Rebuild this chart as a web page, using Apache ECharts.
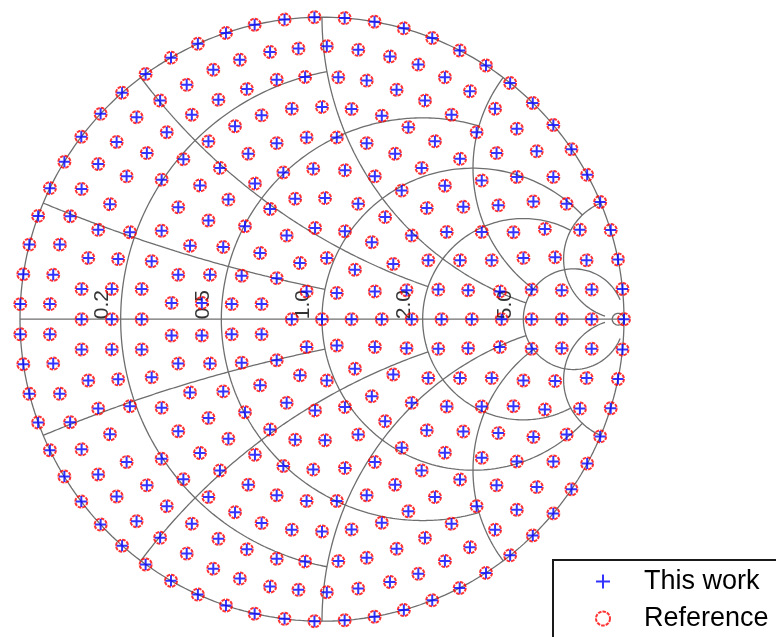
<!DOCTYPE html>
<html>
<head>
<meta charset="utf-8">
<title>Smith chart nodes</title>
<script src="https://cdn.jsdelivr.net/npm/echarts@6/dist/echarts.min.js"></script>
<style>
  html, body { margin: 0; padding: 0; background: #ffffff; }
  #chart { width: 776px; height: 637px; }
</style>
</head>
<body>
<div id="chart"></div>
<script>
// ---- Smith chart grid definition (normalised impedance) ----
const resistanceValues = [0.2, 0.5, 1, 2, 5, 50];
const resistanceClip   = [1, 2, 5, 5, 30, Infinity];   // |x| limit of each circle
const reactanceValues  = [0.2, 0.5, 1, 2, 5];
const reactanceClip    = [1, 2, 5, 5, 30];             // r limit of each arc
const labelResistance  = [0.2, 0.5, 1, 2, 5];
const labelText        = ['0.2', '0.5', '1.0', '2.0', '5.0'];

// ---- node set, reflection coefficient [Re, Im] ----
const rimUpper = [
  [1.000, 0.000], [0.995, 0.100], [0.980, 0.198], [0.956, 0.295], [0.921, 0.388],
  [0.878, 0.478], [0.826, 0.563], [0.766, 0.643], [0.698, 0.716], [0.623, 0.782],
  [0.543, 0.840], [0.456, 0.890], [0.365, 0.931], [0.271, 0.963], [0.174, 0.985],
  [0.075, 0.997], [-0.025, 1.000], [-0.124, 0.992], [-0.223, 0.975], [-0.318, 0.948],
  [-0.411, 0.912], [-0.500, 0.866], [-0.584, 0.812], [-0.662, 0.750], [-0.733, 0.680],
  [-0.797, 0.604], [-0.853, 0.521], [-0.901, 0.434], [-0.940, 0.342], [-0.969, 0.247],
  [-0.989, 0.149], [-0.999, 0.050]
];
const rimLower = [
  [0.995, -0.100], [0.980, -0.198], [0.956, -0.295], [0.921, -0.388],
  [0.878, -0.478], [0.826, -0.563], [0.766, -0.643], [0.698, -0.716], [0.623, -0.782],
  [0.543, -0.840], [0.456, -0.890], [0.365, -0.931], [0.271, -0.963], [0.174, -0.985],
  [0.075, -0.997], [-0.025, -1.000], [-0.124, -0.992], [-0.223, -0.975], [-0.318, -0.948],
  [-0.411, -0.912], [-0.500, -0.866], [-0.584, -0.812], [-0.662, -0.750], [-0.733, -0.680],
  [-0.797, -0.604], [-0.853, -0.521], [-0.901, -0.434], [-0.940, -0.342], [-0.969, -0.247],
  [-0.989, -0.149], [-0.999, -0.050]
];
const innerUpper = [
  [0.016, 0.904], [-0.172, 0.885], [-0.078, 0.896], [-0.272, 0.859], [-0.360, 0.826],
  [-0.150, 0.793], [-0.056, 0.802], [-0.448, 0.776], [-0.249, 0.762], [-0.343, 0.727],
  [-0.536, 0.724], [0.000, 0.703], [-0.100, 0.697], [-0.431, 0.677], [-0.200, 0.675],
  [-0.614, 0.669], [-0.288, 0.639], [-0.514, 0.619], [-0.051, 0.602], [-0.680, 0.587],
  [-0.376, 0.589], [-0.150, 0.583], [-0.580, 0.550], [-0.244, 0.548], [-0.459, 0.530],
  [-0.741, 0.514], [-0.338, 0.501], [-0.029, 0.498], [-0.128, 0.486], [-0.647, 0.473],
  [-0.531, 0.462], [-0.222, 0.449], [-0.404, 0.443], [-0.796, 0.431], [-0.702, 0.381],
  [-0.310, 0.396], [-0.089, 0.399], [0.010, 0.401], [-0.476, 0.371], [-0.172, 0.365],
  [-0.834, 0.341], [-0.376, 0.327], [-0.255, 0.308], [-0.023, 0.302], [-0.741, 0.296],
  [-0.531, 0.293], [-0.636, 0.288], [-0.117, 0.277], [-0.868, 0.247], [-0.437, 0.243],
  [-0.327, 0.239], [-0.205, 0.219], [-0.774, 0.203], [-0.675, 0.199], [-0.564, 0.192],
  [0.016, 0.203], [-0.073, 0.186], [-0.890, 0.147], [-0.476, 0.147], [-0.371, 0.147],
  [-0.266, 0.144], [-0.150, 0.136], [-0.796, 0.100], [-0.696, 0.100], [-0.597, 0.100],
  [-0.051, 0.092], [-0.901, 0.050], [-0.498, 0.054], [-0.398, 0.054], [-0.299, 0.050],
  [-0.200, 0.050],
  [0.120, 0.892], [0.225, 0.870], [0.319, 0.843], [0.054, 0.801], [0.148, 0.790],
  [0.407, 0.801], [0.247, 0.760], [0.490, 0.755], [0.341, 0.724], [0.098, 0.696],
  [0.198, 0.674], [0.429, 0.677], [0.573, 0.697], [0.286, 0.636], [0.645, 0.631],
  [0.049, 0.602], [0.512, 0.619], [0.148, 0.583], [0.374, 0.589], [0.711, 0.556],
  [0.242, 0.548], [0.457, 0.531], [0.578, 0.550], [0.076, 0.493], [0.330, 0.501],
  [0.175, 0.473], [0.529, 0.459], [0.645, 0.471], [0.766, 0.471], [0.407, 0.442],
  [0.264, 0.426], [0.120, 0.382], [0.347, 0.368], [0.468, 0.372], [0.584, 0.377],
  [0.700, 0.390], [0.810, 0.382], [0.209, 0.338], [0.076, 0.291], [0.297, 0.277],
  [0.413, 0.289], [0.529, 0.289], [0.634, 0.288], [0.738, 0.299], [0.854, 0.296],
  [0.165, 0.255], [0.109, 0.164], [0.236, 0.183], [0.352, 0.195], [0.457, 0.195],
  [0.562, 0.195], [0.667, 0.203], [0.772, 0.205], [0.876, 0.195], [0.049, 0.087],
  [0.175, 0.092], [0.280, 0.096], [0.385, 0.098], [0.484, 0.096], [0.589, 0.092],
  [0.694, 0.098], [0.794, 0.096], [0.893, 0.098]
];
const innerLower = [
  [0.016, -0.904], [-0.172, -0.885], [-0.078, -0.896], [-0.272, -0.859], [-0.360, -0.826],
  [-0.150, -0.793], [-0.056, -0.802], [-0.448, -0.776], [-0.249, -0.762], [-0.343, -0.727],
  [-0.536, -0.724], [0.000, -0.703], [-0.100, -0.697], [-0.431, -0.677], [-0.200, -0.675],
  [-0.614, -0.669], [-0.288, -0.639], [-0.514, -0.619], [-0.051, -0.602], [-0.680, -0.587],
  [-0.376, -0.589], [-0.150, -0.583], [-0.580, -0.550], [-0.244, -0.548], [-0.459, -0.530],
  [-0.741, -0.514], [-0.338, -0.501], [-0.029, -0.498], [-0.128, -0.486], [-0.647, -0.473],
  [-0.531, -0.462], [-0.222, -0.449], [-0.404, -0.443], [-0.796, -0.431], [-0.702, -0.381],
  [-0.310, -0.396], [-0.089, -0.399], [0.010, -0.401], [-0.476, -0.371], [-0.172, -0.365],
  [-0.834, -0.341], [-0.376, -0.327], [-0.255, -0.308], [-0.023, -0.302], [-0.741, -0.296],
  [-0.531, -0.293], [-0.636, -0.288], [-0.117, -0.277], [-0.868, -0.247], [-0.437, -0.243],
  [-0.327, -0.239], [-0.205, -0.219], [-0.774, -0.203], [-0.675, -0.199], [-0.564, -0.192],
  [0.016, -0.203], [-0.073, -0.186], [-0.890, -0.147], [-0.476, -0.147], [-0.371, -0.147],
  [-0.266, -0.144], [-0.150, -0.136], [-0.796, -0.100], [-0.696, -0.100], [-0.597, -0.100],
  [-0.051, -0.092], [-0.901, -0.050], [-0.498, -0.054], [-0.398, -0.054], [-0.299, -0.050],
  [-0.200, -0.050],
  [0.120, -0.892], [0.225, -0.870], [0.319, -0.843], [0.054, -0.801], [0.148, -0.790],
  [0.407, -0.801], [0.247, -0.760], [0.490, -0.755], [0.341, -0.724], [0.098, -0.696],
  [0.198, -0.674], [0.429, -0.677], [0.573, -0.697], [0.286, -0.636], [0.645, -0.631],
  [0.049, -0.602], [0.512, -0.619], [0.148, -0.583], [0.374, -0.589], [0.711, -0.556],
  [0.242, -0.548], [0.457, -0.531], [0.578, -0.550], [0.076, -0.493], [0.330, -0.501],
  [0.175, -0.473], [0.529, -0.459], [0.645, -0.471], [0.766, -0.471], [0.407, -0.442],
  [0.264, -0.426], [0.120, -0.382], [0.347, -0.368], [0.468, -0.372], [0.584, -0.377],
  [0.700, -0.390], [0.810, -0.382], [0.209, -0.338], [0.076, -0.291], [0.297, -0.277],
  [0.413, -0.289], [0.529, -0.289], [0.634, -0.288], [0.738, -0.299], [0.854, -0.296],
  [0.165, -0.255], [0.109, -0.164], [0.236, -0.183], [0.352, -0.195], [0.457, -0.195],
  [0.562, -0.195], [0.667, -0.203], [0.772, -0.205], [0.876, -0.195], [0.049, -0.087],
  [0.175, -0.092], [0.280, -0.096], [0.385, -0.098], [0.484, -0.096], [0.589, -0.092],
  [0.694, -0.098], [0.794, -0.096], [0.893, -0.098]
];
const axisRe = [-0.796, -0.696, -0.597, -0.100, 0.000, 0.098, 0.198, 0.297, 0.396, 0.496, 0.595, 0.694, 0.794, 0.893];

// Both result sets coincide node for node
const referenceNodes = [].concat(rimUpper, rimLower, innerUpper, innerLower, axisRe.map(v => [v, 0]));
const thisWorkNodes = referenceNodes;

// ---- geometry helpers ----
function gamma(r, x) {
  const d = (r + 1) * (r + 1) + x * x;
  return [(r * r + x * x - 1) / d, (2 * x) / d];
}

function resistanceCurve(r, clip) {
  const c = r / (1 + r), R = 1 / (1 + r);
  let phi0 = 0;
  if (isFinite(clip)) {
    const g = gamma(r, clip);
    phi0 = Math.atan2(g[1], g[0] - c);
  }
  const pts = [];
  const n = 360;
  for (let i = 0; i <= n; i++) {
    const phi = phi0 + (2 * Math.PI - 2 * phi0) * i / n;
    pts.push([c + R * Math.cos(phi), R * Math.sin(phi)]);
  }
  return pts;
}

function reactanceCurve(x, clip, sign) {
  const cy = 1 / x, R = 1 / x;
  const g0 = gamma(0, x), g1 = gamma(clip, x);
  let a0 = Math.atan2(g0[1] - cy, g0[0] - 1);
  let a1 = Math.atan2(g1[1] - cy, g1[0] - 1);
  if (a0 < 0) a0 += 2 * Math.PI;
  if (a1 < 0) a1 += 2 * Math.PI;
  const pts = [];
  const n = 240;
  for (let i = 0; i <= n; i++) {
    const a = a0 + (a1 - a0) * i / n;
    pts.push([1 + R * Math.cos(a), sign * (cy + R * Math.sin(a))]);
  }
  return pts;
}

const gridStyle = { color: '#6e6e6e', width: 1.3 };
function gridSeries(points) {
  return {
    type: 'line', data: points, showSymbol: false, symbol: 'none',
    silent: true, clip: false, z: 1, animation: false,
    lineStyle: gridStyle
  };
}

const series = [];
series.push(gridSeries(resistanceCurve(0, Infinity)));      // outer boundary |Γ| = 1
series.push(gridSeries([[-1, 0], [1, 0]]));                   // real axis
resistanceValues.forEach((r, i) => series.push(gridSeries(resistanceCurve(r, resistanceClip[i]))));
reactanceValues.forEach((x, i) => {
  series.push(gridSeries(reactanceCurve(x, reactanceClip[i], 1)));
  series.push(gridSeries(reactanceCurve(x, reactanceClip[i], -1)));
});

// resistance labels along the real axis
series.push({
  type: 'scatter', silent: true, z: 2, animation: false,
  symbolSize: 1, itemStyle: { color: 'rgba(0,0,0,0)' },
  data: labelResistance.map(r => [(r - 1) / (r + 1), 0]),
  label: {
    show: true, position: 'left', distance: 18, rotate: 90,
    align: 'left', verticalAlign: 'middle',
    formatter: p => labelText[p.dataIndex],
    color: '#000', fontSize: 21, fontFamily: 'Liberation Sans, Arial, sans-serif'
  }
});

const plusPath = 'path://M0,5L10,5M5,0L5,10';
const refStyle = { color: 'rgba(0,0,0,0)', borderColor: '#ff0000', borderWidth: 2, borderType: [3.6, 1] };
const workStyle = { color: 'rgba(0,0,0,0)', borderColor: '#0000ff', borderWidth: 2 };

series.push({
  name: 'Reference', type: 'scatter', z: 3, silent: true, animation: false,
  symbol: 'circle', symbolSize: 12, itemStyle: refStyle,
  data: referenceNodes
});
series.push({
  name: 'This work', type: 'scatter', z: 4, silent: true, animation: false,
  symbol: plusPath, symbolSize: 11, itemStyle: workStyle,
  data: thisWorkNodes
});

const chart = echarts.init(document.getElementById('chart'), null, { renderer: 'canvas' });
chart.setOption({
  backgroundColor: '#ffffff',
  animation: false,
  grid: { left: 20, top: 17.2, width: 604, height: 604, outerBoundsMode: 'none' },
  xAxis: { type: 'value', min: -1, max: 1, show: false },
  yAxis: { type: 'value', min: -1, max: 1, show: false },
  legend: {
    orient: 'vertical', left: 553, top: 560, width: 200, height: 90,
    padding: [8, 40, 30, 42],
    itemWidth: 14, itemHeight: 14, itemGap: 10,
    backgroundColor: '#ffffff', borderColor: '#1a1a1a', borderWidth: 2,
    selectedMode: false,
    textStyle: {
      fontSize: 27, lineHeight: 27, color: '#000', padding: [0, 0, 0, 29],
      fontFamily: 'Liberation Sans, Arial, sans-serif'
    },
    data: [
      { name: 'This work', icon: plusPath, itemStyle: workStyle },
      { name: 'Reference', icon: 'circle', itemStyle: refStyle }
    ]
  },
  series: series
});
</script>
</body>
</html>
